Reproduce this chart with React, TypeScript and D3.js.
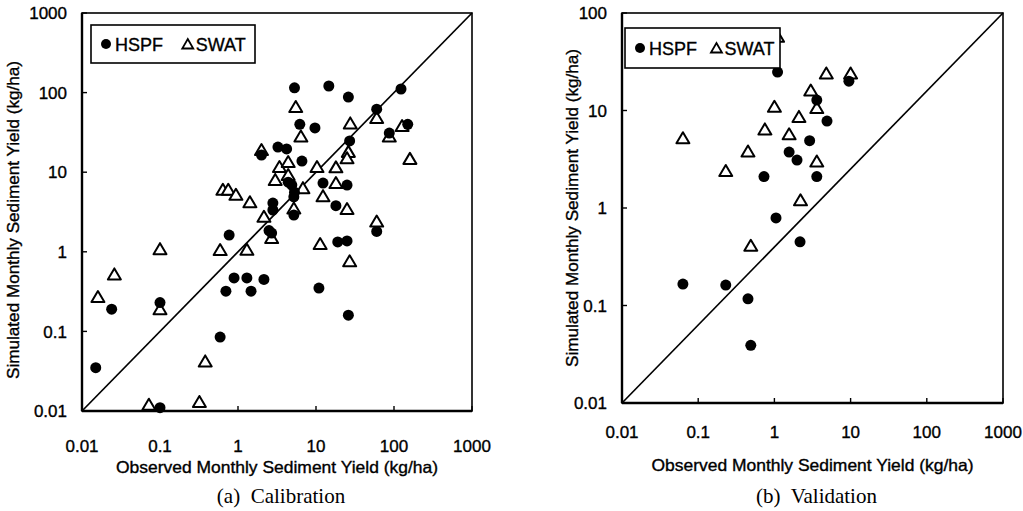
import React from "react";
import { scaleLog } from "d3";

type Pt = [number, number];

// (a) Calibration, observed vs simulated monthly sediment yield (kg/ha)
const calHspf: Pt[] = [
  [0.015, 0.035], [0.024, 0.19], [0.1, 0.23], [0.1, 0.011], [0.59, 0.085],
  [0.7, 0.32], [0.77, 1.62], [0.89, 0.47], [1.3, 0.47], [1.47, 0.32],
  [2.15, 0.45], [2.5, 1.85], [2.7, 1.72], [10.9, 0.35], [26, 0.16],
  [19, 1.33], [25, 1.37], [60, 1.8], [5.3, 115], [14.6, 121],
  [26, 88], [123, 111], [60, 62], [6.2, 40], [9.7, 36],
  [150, 40], [87, 31], [27, 24.7], [12.3, 7.3], [25, 6.9],
  [18, 3.8], [3.25, 20.7], [4.2, 19.6], [2.0, 16.4], [6.6, 13.8],
  [4.4, 7.5], [4.9, 6.9], [5.3, 5.6], [5.2, 4.9], [5.2, 2.9],
  [2.8, 4.1], [2.8, 3.35],
];
const calSwat: Pt[] = [
  [0.016, 0.27], [0.026, 0.52], [0.1, 1.08], [0.1, 0.19], [0.38, 0.042],
  [0.072, 0.012], [0.32, 0.013], [0.59, 1.05], [1.3, 1.06], [2.15, 2.75],
  [2.7, 1.49], [0.64, 6.0], [0.75, 6.0], [0.94, 5.2], [1.42, 4.2],
  [2.0, 19], [3.0, 8.0], [3.4, 11.6], [4.4, 13.4], [4.4, 9.2],
  [6.8, 6.3], [5.2, 3.5], [5.5, 66], [6.4, 28], [10.3, 11.6],
  [18, 11.5], [18, 7.3], [12.3, 5.0], [25, 3.45], [11.3, 1.25],
  [27, 0.76], [60, 2.4], [60, 48], [27.5, 41], [26, 18],
  [25, 15], [87, 28], [127, 38], [160, 14.7],
];

// (b) Validation
const valHspf: Pt[] = [
  [0.063, 0.166], [0.23, 0.162], [0.45, 0.117], [0.49, 0.039], [0.73, 2.1],
  [1.05, 0.79], [1.1, 24.8], [1.56, 3.75], [1.98, 3.1], [2.17, 0.45],
  [2.9, 4.9], [3.6, 12.8], [3.6, 2.1], [4.9, 7.8], [9.5, 20],
];
const valSwat: Pt[] = [
  [0.063, 5.2], [0.23, 2.4], [0.45, 3.8], [0.49, 0.41], [0.75, 6.4],
  [1.0, 10.9], [1.1, 57], [1.56, 5.7], [2.1, 8.6], [2.2, 1.2],
  [3.0, 16], [3.6, 10.6], [3.6, 3.0], [4.8, 24], [10, 24],
];

const xTicks = [0.01, 0.1, 1, 10, 100, 1000];
const calYTicks = [0.01, 0.1, 1, 10, 100, 1000];
const valYTicks = [0.01, 0.1, 1, 10, 100];

const xTitle = "Observed Monthly Sediment Yield (kg/ha)";
const yTitle = "Simulated Monthly Sediment Yield (kg/ha)";

const sans = "'Liberation Sans', Arial, sans-serif";
const serif = "'Liberation Serif', 'Times New Roman', serif";

const tri = "M0,-6L6.5,5L-6.5,5Z";
const triSmall = "M0,-5L5.5,4.5L-5.5,4.5Z";

// scanned print looks heavy, thicken glyphs a touch
const ink = { stroke: "#000", strokeWidth: 0.35 };

const Panel = ({ box, yTicks, hspf, swat, legend, caption, xLabelY, titleY, yTitleX, yTitleY }) => {
  const [left, right, top, bottom] = box;
  const x = scaleLog().domain([0.01, 1000]).range([left, right]);
  const y = scaleLog().domain([0.01, yTicks[yTicks.length - 1]]).range([bottom, top]);
  const [lx, ly, lw, lh] = legend;
  const my = ly + lh / 2;
  return (
    <g>
      {/* 1:1 line corner to corner */}
      <line x1={x(0.01)} y1={y(0.01)} x2={x(1000)} y2={y(yTicks[yTicks.length - 1])}
        stroke="#000" strokeWidth={1.7} />
      <rect x={left} y={top} width={right - left} height={bottom - top}
        fill="none" stroke="#000" strokeWidth={1.6} />
      <line x1={left} y1={top} x2={left} y2={bottom} stroke="#000" strokeWidth={2.4} />
      <line x1={left} y1={bottom} x2={right} y2={bottom} stroke="#000" strokeWidth={2.4} />

      {xTicks.map((t) => (
        <g key={"x" + t}>
          <line x1={x(t)} x2={x(t)} y1={bottom} y2={bottom - 5} stroke="#000" strokeWidth={1.4} />
          <text x={x(t)} y={xLabelY} textAnchor="middle" fontFamily={sans} fontSize={17} {...ink}>{String(t)}</text>
        </g>
      ))}
      {yTicks.map((t) => (
        <g key={"y" + t}>
          <line x1={left} x2={left + 5} y1={y(t)} y2={y(t)} stroke="#000" strokeWidth={1.4} />
          <text x={left - 15} y={y(t)} dy="0.36em" textAnchor="end" fontFamily={sans} fontSize={17} {...ink}>{String(t)}</text>
        </g>
      ))}

      {swat.map((d, i) => (
        <path key={"s" + i} d={tri} transform={`translate(${x(d[0])},${y(d[1])})`}
          fill="#fff" stroke="#000" strokeWidth={2} strokeLinejoin="round" />
      ))}
      {hspf.map((d, i) => (
        <circle key={"h" + i} cx={x(d[0])} cy={y(d[1])} r={5.5} fill="#000" />
      ))}

      <rect x={lx} y={ly} width={lw} height={lh} fill="#fff" stroke="#000" strokeWidth={1.6} />
      <circle cx={lx + 15} cy={my} r={5} fill="#000" />
      <text x={lx + 24} y={my + 7} fontFamily={sans} fontSize={18} {...ink}>HSPF</text>
      <path d={triSmall} transform={`translate(${lx + lw * 0.59},${my})`} fill="#fff" stroke="#000" strokeWidth={1.8} />
      <text x={lx + lw * 0.59 + 8} y={my + 7} fontFamily={sans} fontSize={18} {...ink}>SWAT</text>

      <text x={(left + right) / 2} y={titleY} textAnchor="middle" fontFamily={sans} fontSize={16.5}
        textLength={322} lengthAdjust="spacingAndGlyphs" {...ink}>{xTitle}</text>
      <text transform={`translate(${yTitleX},${yTitleY}) rotate(-90)`} textAnchor="middle" fontFamily={sans}
        fontSize={16.5} textLength={318} lengthAdjust="spacingAndGlyphs" {...ink}>{yTitle}</text>
      <text x={(left + right) / 2 + 4} y={503} textAnchor="middle" fontFamily={serif} fontSize={21}
        xmlSpace="preserve">{caption}</text>
    </g>
  );
};

export default function App() {
  return (
    <svg width={1023} height={511} style={{ position: "absolute", left: 0, top: 0, background: "#fff" }}>
      <Panel box={[82, 472, 13, 411]} yTicks={calYTicks} hspf={calHspf} swat={calSwat}
        legend={[91, 25, 164, 38]} caption="(a)  Calibration" xLabelY={452} titleY={473}
        yTitleX={19} yTitleY={220} />
      <Panel box={[622, 1003, 13, 403]} yTicks={valYTicks} hspf={valHspf} swat={valSwat}
        legend={[625, 28, 155, 40]} caption="(b)  Validation" xLabelY={438} titleY={471}
        yTitleX={578} yTitleY={208} />
    </svg>
  );
}
